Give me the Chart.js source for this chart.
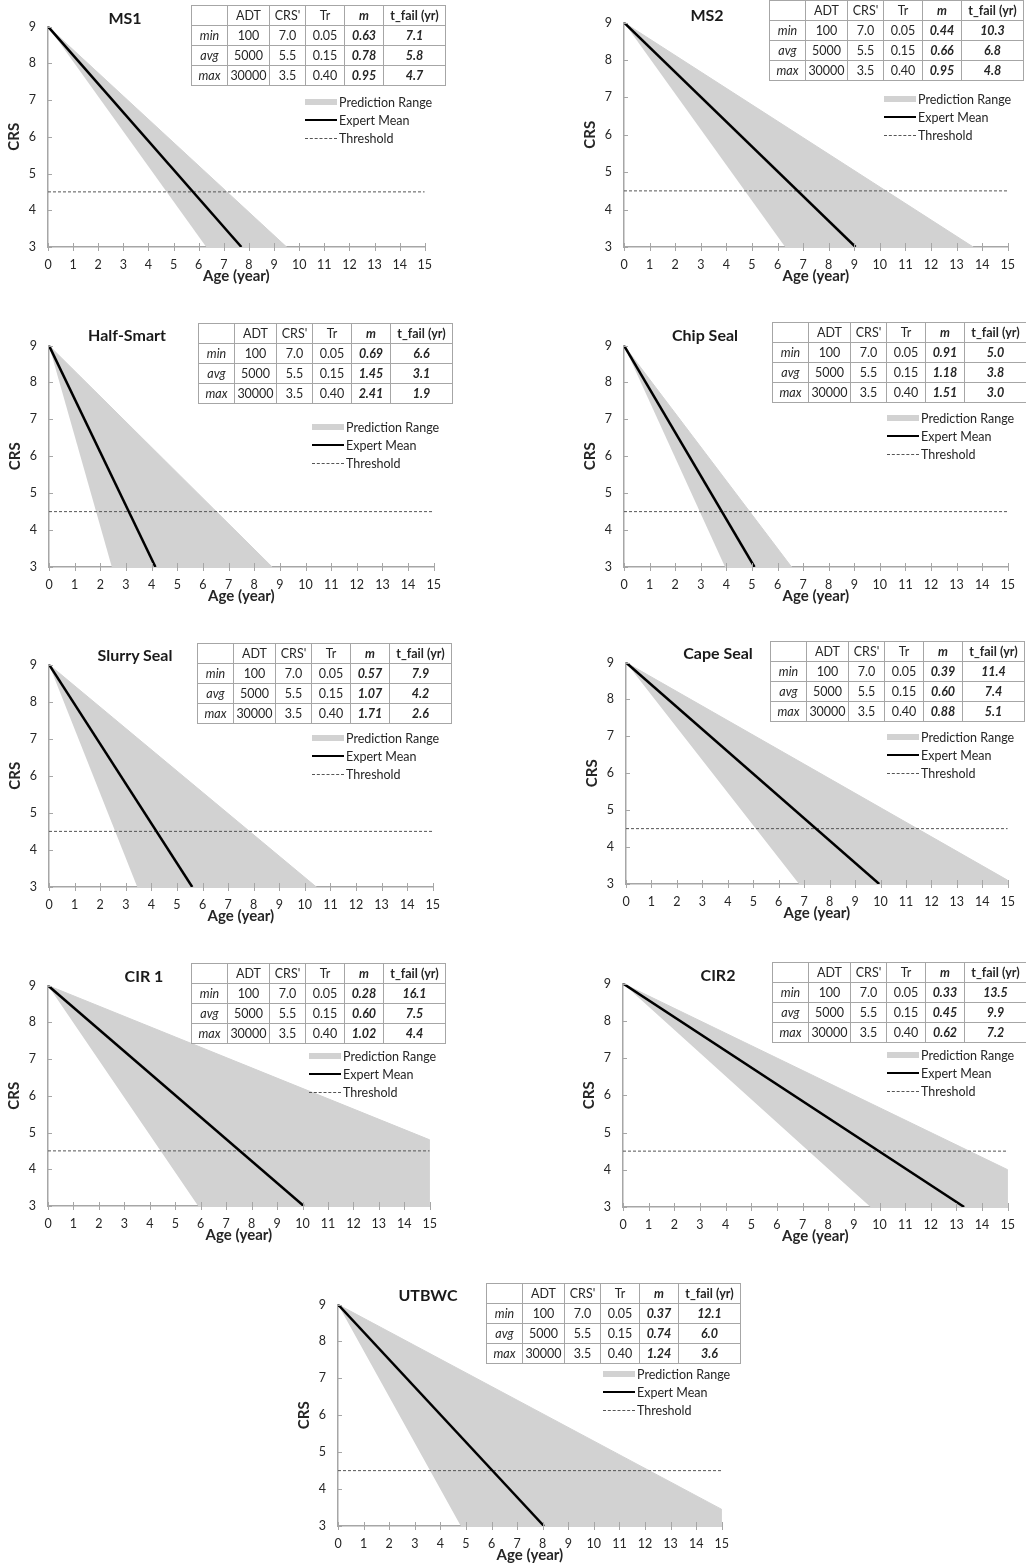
<!DOCTYPE html>
<html>
<head>
<meta charset="utf-8">
<title>CRS deterioration by treatment</title>
<script src="https://cdn.jsdelivr.net/npm/chart.js@4.4.1/dist/chart.umd.min.js"></script>
<style>
  body { margin: 0; background: #fff; font-family: Lato, "Noto Sans", sans-serif; color: #262626; }
  #page { position: relative; width: 1026px; height: 1565px; overflow: hidden; }
  canvas { position: absolute; }
  .title { position: absolute; font-weight: bold; font-size: 16px; color: #1a1a1a; transform: translate(-50%, -50%); white-space: nowrap; }
  table.params { position: absolute; border-collapse: collapse; background: #fff; font-size: 12.5px; table-layout: fixed; width: 254px; }
  table.params tr { height: 20px; }
  table.params td { border: 1px solid #a6a6a6; padding: 0; text-align: center; white-space: nowrap; overflow: hidden; }
  table.params td.it { font-style: italic; }
  table.params td.bi { font-style: italic; font-weight: bold; }
  table.params td.b { font-weight: bold; }
  .legend { position: absolute; font-size: 12.5px; color: #262626; }
  .legend div { height: 18px; display: flex; align-items: center; }
  .sw { width: 32px; margin-right: 2px; }
  .sw.range { height: 6px; background: #d2d2d2; }
  .sw.mean { height: 0; border-top: 2.5px solid #000; }
  .sw.thr { height: 0; border-top: 1px dashed #555; }
</style>
</head>
<body>
<div id="page"></div>
<script>
// Data
const panelNames = ['MS1', 'MS2', 'Half-Smart', 'Chip Seal', 'Slurry Seal', 'Cape Seal', 'CIR 1', 'CIR2', 'UTBWC'];
const ageTicks = [0, 1, 2, 3, 4, 5, 6, 7, 8, 9, 10, 11, 12, 13, 14, 15];
const crsTicks = [3, 4, 5, 6, 7, 8, 9];

const headerLabels = ['', 'ADT', "CRS'", 'Tr', 'm', 't_fail (yr)'];
const rowLabels = ['min', 'avg', 'max'];
const adtValues = ['100', '5000', '30000'];
const crsPrimeValues = ['7.0', '5.5', '3.5'];
const trValues = ['0.05', '0.15', '0.40'];
const mValues = [
  ['0.63', '0.78', '0.95'],
  ['0.44', '0.66', '0.95'],
  ['0.69', '1.45', '2.41'],
  ['0.91', '1.18', '1.51'],
  ['0.57', '1.07', '1.71'],
  ['0.39', '0.60', '0.88'],
  ['0.28', '0.60', '1.02'],
  ['0.33', '0.45', '0.62'],
  ['0.37', '0.74', '1.24']
];
const tFailValues = [
  ['7.1', '5.8', '4.7'],
  ['10.3', '6.8', '4.8'],
  ['6.6', '3.1', '1.9'],
  ['5.0', '3.8', '3.0'],
  ['7.9', '4.2', '2.6'],
  ['11.4', '7.4', '5.1'],
  ['16.1', '7.5', '4.4'],
  ['13.5', '9.9', '7.2'],
  ['12.1', '6.0', '3.6']
];

const startCRS = 9;
const floorCRS = 3;
const thresholdCRS = 4.5;
// age where the expert mean line reaches CRS 3
const meanEndAge = [7.7, 9.05, 4.15, 5.1, 5.6, 9.95, 10.05, 13.3, 8.05];
// fast edge of the prediction range (reaches CRS 3)
const rangeFastEndAge = [6.3, 6.3, 2.45, 3.95, 3.45, 6.8, 5.9, 9.65, 4.8];
// slow edge of the prediction range: [age, CRS] where it leaves the plot
const rangeSlowEnd = [[9.5, 3], [13.65, 3], [8.7, 3], [6.55, 3], [10.45, 3], [15, 3.1], [15, 4.8], [15, 4.0], [15, 3.45]];

// Page layout (pixels): plot box [left, right, top, bottom], title centre, table and legend top-left
const layout = [
  { plot: [48, 432, 15, 247], title: [125, 17], table: [191, 5], legend: [305, 93] },
  { plot: [624, 1015, 11, 247], title: [707, 14], table: [769, 0], legend: [884, 90] },
  { plot: [49, 441, 334, 567], title: [127, 334], table: [198, 323], legend: [312, 418] },
  { plot: [624, 1015, 334, 567], title: [705, 334], table: [772, 322], legend: [887, 409] },
  { plot: [49, 440, 653, 887], title: [135, 654], table: [197, 643], legend: [312, 729] },
  { plot: [626, 1015, 651, 884], title: [718, 652], table: [770, 641], legend: [887, 728] },
  { plot: [48, 437, 974, 1206], title: [144, 975], table: [191, 963], legend: [309, 1047] },
  { plot: [623, 1015, 972, 1207], title: [718, 974], table: [772, 962], legend: [887, 1046] },
  { plot: [338, 729, 1293, 1526], title: [428, 1294], table: [486, 1283], legend: [603, 1365] }
];
const colWidths = [36, 42, 36, 39, 39, 62];

const axisGrey = '#a6a6a6';
const Y_AXIS_W = 45, X_AXIS_H = 38, PAD_TOP = 8, PAD_RIGHT = 10;

Chart.defaults.font.family = 'Lato, "Noto Sans", sans-serif';
Chart.defaults.color = '#262626';

// Excel-style tick marks: crossing on x, inside on y
const tickMarks = {
  id: 'tickMarks',
  afterDraw(chart) {
    const { ctx, scales: { x, y } } = chart;
    ctx.save();
    ctx.strokeStyle = axisGrey;
    ctx.lineWidth = 1;
    ctx.beginPath();
    x.ticks.forEach(t => {
      const px = Math.round(x.getPixelForValue(t.value)) + 0.5;
      ctx.moveTo(px, y.bottom - 4);
      ctx.lineTo(px, y.bottom + 4);
    });
    y.ticks.forEach(t => {
      const py = Math.round(y.getPixelForValue(t.value)) + 0.5;
      ctx.moveTo(x.left, py);
      ctx.lineTo(x.left + 4, py);
    });
    ctx.stroke();
    ctx.restore();
  }
};

const page = document.getElementById('page');

function buildTable(i) {
  const t = document.createElement('table');
  t.className = 'params';
  const cg = document.createElement('colgroup');
  colWidths.forEach(w => {
    const c = document.createElement('col');
    c.style.width = w + 'px';
    cg.appendChild(c);
  });
  t.appendChild(cg);
  const head = document.createElement('tr');
  headerLabels.forEach((h, k) => {
    const td = document.createElement('td');
    td.textContent = h;
    if (k === 4) td.className = 'bi';
    if (k === 5) td.className = 'b';
    head.appendChild(td);
  });
  t.appendChild(head);
  rowLabels.forEach((lab, r) => {
    const tr = document.createElement('tr');
    const cells = [[lab, 'it'], [adtValues[r], ''], [crsPrimeValues[r], ''], [trValues[r], ''], [mValues[i][r], 'bi'], [tFailValues[i][r], 'bi']];
    cells.forEach(([txt, cls]) => {
      const td = document.createElement('td');
      td.textContent = txt;
      if (cls) td.className = cls;
      tr.appendChild(td);
    });
    t.appendChild(tr);
  });
  t.style.left = layout[i].table[0] + 'px';
  t.style.top = layout[i].table[1] + 'px';
  return t;
}

function buildLegend(i) {
  const lg = document.createElement('div');
  lg.className = 'legend';
  lg.style.left = layout[i].legend[0] + 'px';
  lg.style.top = layout[i].legend[1] + 'px';
  lg.innerHTML =
    '<div><span class="sw range"></span>Prediction Range</div>' +
    '<div><span class="sw mean"></span>Expert Mean</div>' +
    '<div><span class="sw thr"></span>Threshold</div>';
  return lg;
}

panelNames.forEach((name, i) => {
  const [l, r, t, b] = layout[i].plot;
  const canvas = document.createElement('canvas');
  canvas.width = r - l + Y_AXIS_W + PAD_RIGHT;
  canvas.height = b - t + PAD_TOP + X_AXIS_H;
  canvas.style.left = (l - Y_AXIS_W) + 'px';
  canvas.style.top = (t - PAD_TOP) + 'px';
  page.appendChild(canvas);

  const slow = rangeSlowEnd[i];
  const rangePoly = [{ x: ageTicks[0], y: startCRS }, { x: slow[0], y: slow[1] }];
  if (slow[1] > floorCRS) rangePoly.push({ x: slow[0], y: floorCRS });
  rangePoly.push({ x: rangeFastEndAge[i], y: floorCRS });

  new Chart(canvas, {
    type: 'line',
    data: {
      datasets: [
        {
          label: 'Expert Mean',
          data: [{ x: ageTicks[0], y: startCRS }, { x: meanEndAge[i], y: floorCRS }],
          borderColor: '#000',
          borderWidth: 2.5,
          pointRadius: 0,
          fill: false
        },
        {
          label: 'Threshold',
          data: [{ x: ageTicks[0], y: thresholdCRS }, { x: ageTicks[ageTicks.length - 1], y: thresholdCRS }],
          borderColor: '#555',
          borderWidth: 1,
          borderDash: [3, 2],
          pointRadius: 0,
          fill: false
        },
        {
          label: 'Prediction Range',
          data: rangePoly,
          borderColor: '#d2d2d2',
          borderWidth: 1,
          backgroundColor: '#d2d2d2',
          pointRadius: 0,
          fill: 'shape'
        }
      ]
    },
    options: {
      responsive: false,
      animation: false,
      events: [],
      layout: { padding: { left: 0, top: PAD_TOP, right: PAD_RIGHT, bottom: 0 } },
      plugins: { legend: { display: false }, tooltip: { enabled: false } },
      scales: {
        x: {
          type: 'linear',
          min: ageTicks[0],
          max: ageTicks[ageTicks.length - 1],
          afterBuildTicks: s => { s.ticks = ageTicks.map(v => ({ value: v })); },
          afterFit: s => { s.height = X_AXIS_H; },
          grid: { display: false, drawTicks: false },
          border: { display: true, color: axisGrey, width: 1.5 },
          ticks: { padding: 10, font: { size: 12.5 }, maxRotation: 0, autoSkip: false },
          title: { display: true, text: 'Age (year)', font: { size: 15, weight: 'bold' }, padding: { top: 0, bottom: 0 } }
        },
        y: {
          type: 'linear',
          min: crsTicks[0],
          max: crsTicks[crsTicks.length - 1],
          afterBuildTicks: s => { s.ticks = crsTicks.map(v => ({ value: v })); },
          afterFit: s => { s.width = Y_AXIS_W; },
          grid: { display: false, drawTicks: false },
          border: { display: true, color: axisGrey, width: 1.5 },
          ticks: { padding: 12, font: { size: 12.5 } },
          title: { display: true, text: 'CRS', font: { size: 15, weight: 'bold' }, padding: { top: 2, bottom: 0 } }
        }
      }
    },
    plugins: [tickMarks]
  });

  const title = document.createElement('div');
  title.className = 'title';
  title.textContent = name;
  title.style.left = layout[i].title[0] + 'px';
  title.style.top = layout[i].title[1] + 'px';
  page.appendChild(title);
  page.appendChild(buildTable(i));
  page.appendChild(buildLegend(i));
});
</script>
</body>
</html>
